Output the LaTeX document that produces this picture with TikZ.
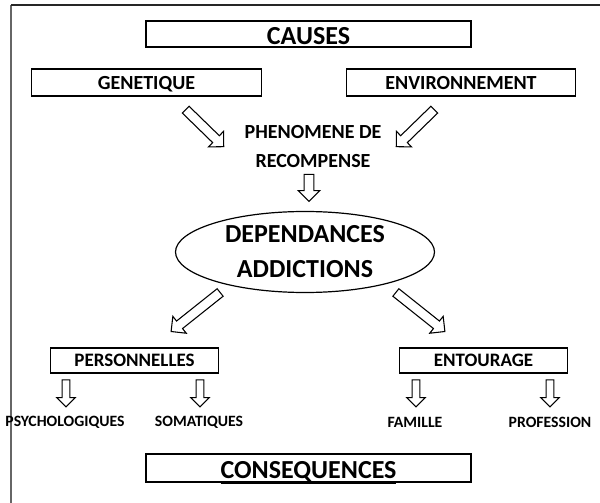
\documentclass[tikz,border=0pt]{standalone}
\usepackage{fontspec}
\setmainfont{Carlito}
\usetikzlibrary{shapes.geometric,shapes.arrows}

\begin{document}
\begin{tikzpicture}[x=0.75pt,y=-0.75pt,line width=0.9pt,
    title box/.style={draw,minimum width=243.75pt,inner ysep=0pt,text depth=0pt,font=\fontsize{19.5}{23}\selectfont\bfseries},
    cause box/.style={draw,minimum width=172pt,minimum height=20.25pt,inner ysep=0pt,text depth=0pt,font=\fontsize{15}{18}\selectfont\bfseries},
    kind box/.style={draw,minimum width=126pt,minimum height=18.75pt,inner ysep=0pt,text depth=0pt,font=\fontsize{14.25}{17}\selectfont\bfseries},
    main node/.style={ellipse,draw,inner sep=0pt,minimum width=194.25pt,minimum height=60.75pt,align=center,font=\fontsize{19.5}{26.25}\selectfont\bfseries},
    leaf/.style={inner sep=0pt,font=\fontsize{11.8}{14}\selectfont\bfseries},
    hollow arrow/.style={single arrow,draw,fill=white,line width=0.8pt,sloped,allow upside down,inner xsep=0pt,inner ysep=3.2pt,single arrow head extend=4.5pt,single arrow tip angle=90},
    thin arrow/.style={hollow arrow,inner ysep=2.5pt,single arrow head extend=4.1pt}]
    \useasboundingbox (0,0) rectangle (600,503);
    \draw[black!60,line width=1.5pt] (11,503) -- (11,5);
    \draw[black!85,line width=1.5pt] (11,5) -- (600,5);

    \node[title box,minimum height=19.5pt,text height=16.5pt] (causes) at (308.5,34) {\underline{CAUSES}};
    \node[cause box] (gen) at (146.5,82.5) {GENETIQUE};
    \node[cause box] (env) at (461,82.5) {ENVIRONNEMENT};
    \node[align=center,inner sep=0pt,font=\fontsize{15}{21.75}\selectfont\bfseries] (phen) at (313,146.5) {PHENOMENE DE\\RECOMPENSE};
    \node[main node] (dep) at (305,252) {DEPENDANCES\\ADDICTIONS};
    \node[kind box] (pers) at (134.5,360.5) {PERSONNELLES};
    \node[kind box] (ent) at (483.5,360.5) {ENTOURAGE};
    \node[leaf] (psy) at (65,422) {PSYCHOLOGIQUES};
    \node[leaf] (soma) at (199,422) {SOMATIQUES};
    \node[leaf] (fam) at (415,422) {FAMILLE};
    \node[leaf] (prof) at (550,422) {PROFESSION};
    \node[title box,minimum height=21pt,text height=15pt] (conseq) at (308.5,468) {\underline{CONSEQUENCES}};

    % ends of the block arrows
    \coordinate (genTail) at (184,108);
    \coordinate (genTip) at (222,145);
    \coordinate (envTail) at (436,108);
    \coordinate (envTip) at (398,145);
    \coordinate (phenTail) at (309,172);
    \coordinate (phenTip) at (309,199);
    \coordinate (persTail) at (222,291);
    \coordinate (persTip) at (173,330);
    \coordinate (entTail) at (394,291);
    \coordinate (entTip) at (443,330);
    \coordinate (psyTail) at (66,378);
    \coordinate (psyTip) at (66,405);
    \coordinate (somaTail) at (200,378);
    \coordinate (somaTip) at (200,405);
    \coordinate (famTail) at (416,378);
    \coordinate (famTip) at (416,405);
    \coordinate (profTail) at (550,378);
    \coordinate (profTip) at (550,405);

    \path (genTail) -- node[hollow arrow,minimum height=39.8pt] (genArrow) {} (genTip);
    \path (envTail) -- node[hollow arrow,minimum height=39.8pt] (envArrow) {} (envTip);
    \path (phenTail) -- node[hollow arrow,minimum height=20.25pt] (phenArrow) {} (phenTip);
    \path (persTail) -- node[hollow arrow,minimum height=47pt] (persArrow) {} (persTip);
    \path (entTail) -- node[hollow arrow,minimum height=47pt] (entArrow) {} (entTip);
    \path (psyTail) -- node[thin arrow,minimum height=20.25pt] (psyArrow) {} (psyTip);
    \path (somaTail) -- node[thin arrow,minimum height=20.25pt] (somaArrow) {} (somaTip);
    \path (famTail) -- node[thin arrow,minimum height=20.25pt] (famArrow) {} (famTip);
    \path (profTail) -- node[thin arrow,minimum height=20.25pt] (profArrow) {} (profTip);
\end{tikzpicture}
\end{document}
